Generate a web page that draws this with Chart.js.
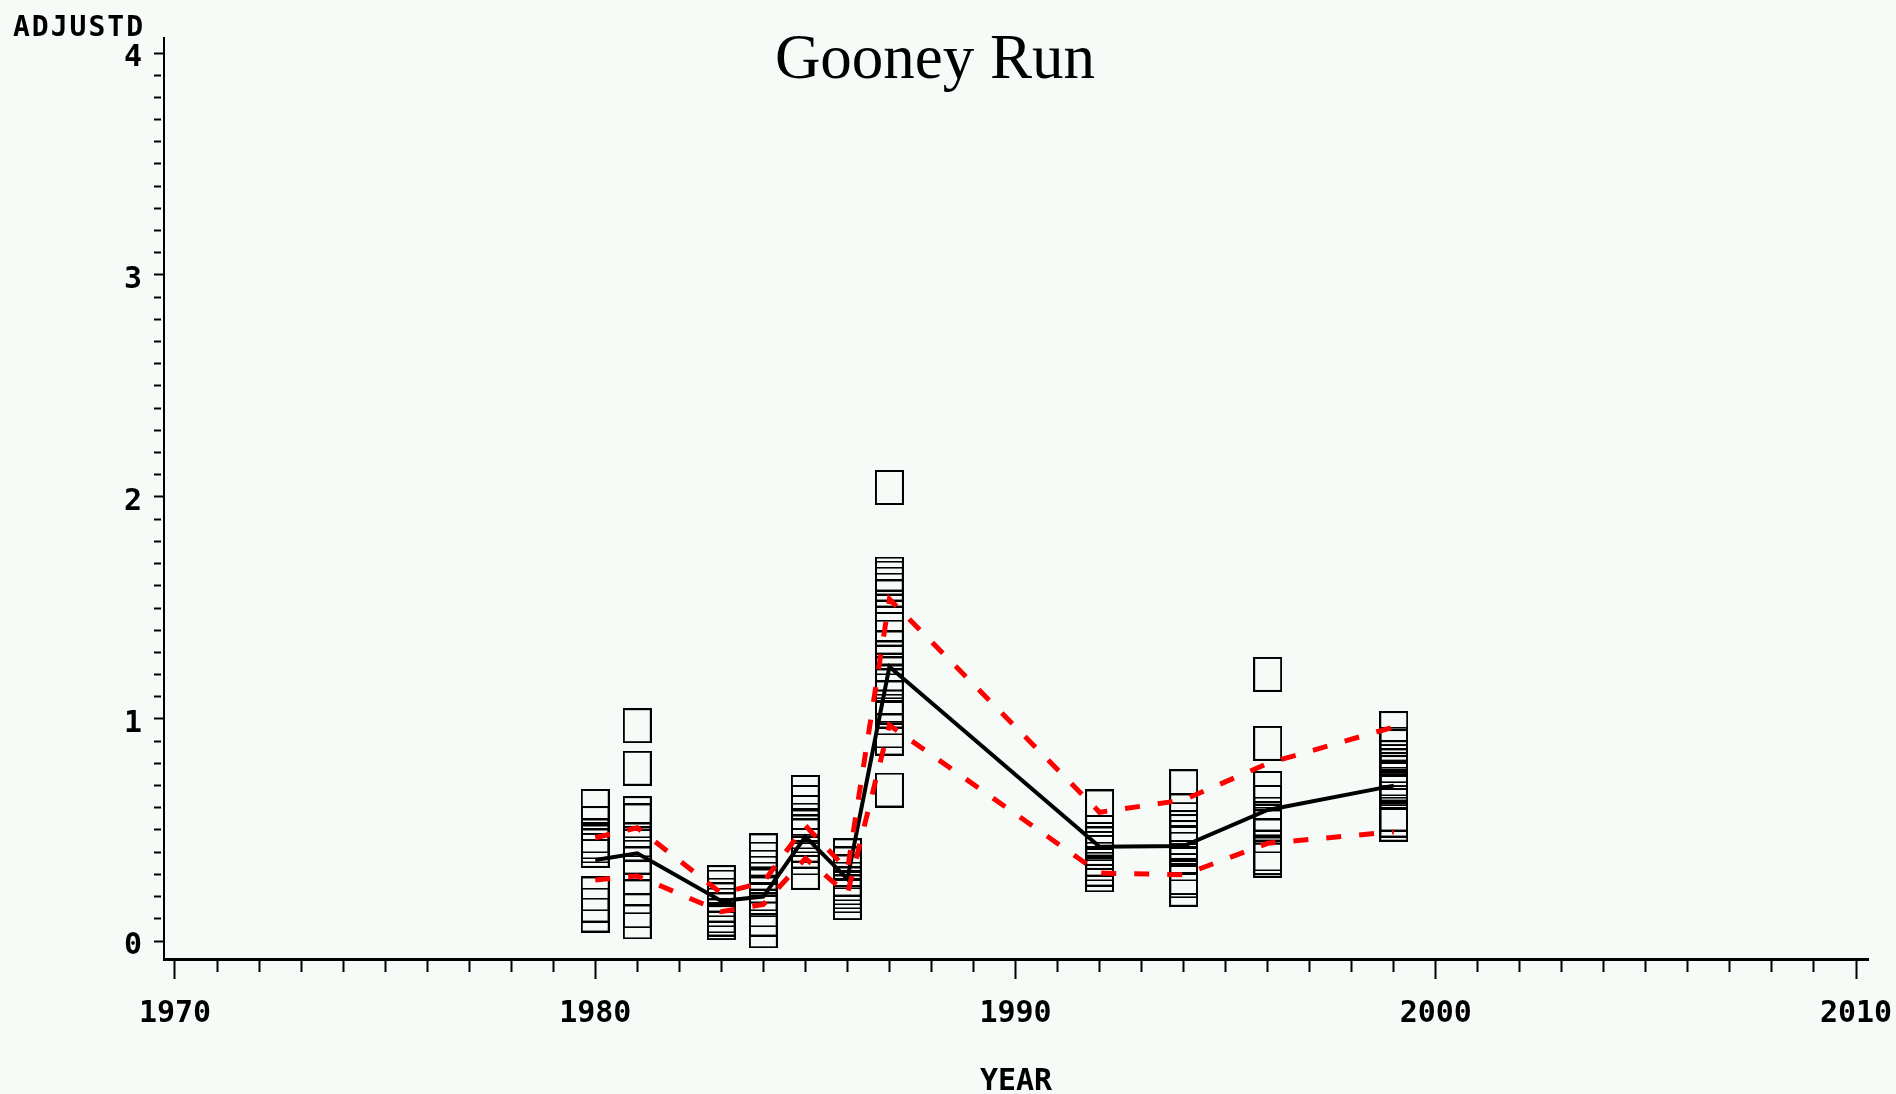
<!DOCTYPE html>
<html>
<head>
<meta charset="utf-8">
<title>Gooney Run</title>
<script src="https://cdn.jsdelivr.net/npm/chart.js@4.4.1/dist/chart.umd.min.js"></script>
<style>
  html, body { margin: 0; padding: 0; background: #f6fbf8; }
  #wrap { position: relative; width: 1896px; height: 1094px; overflow: hidden; }
  #chart { position: absolute; left: 0; top: 0; }
  .title { position: absolute; left: 435px; top: 26px; width: 1000px; text-align: center;
           font: 63px/63px "Liberation Serif", "Times New Roman", serif; color: #000; }
  .ylab  { position: absolute; left: 13px; top: 13px; letter-spacing: 2px;
           font: bold 28px/28px "DejaVu Sans Mono", monospace; color: #000; }
</style>
</head>
<body>
<div id="wrap">
  <canvas id="chart"></canvas>
  <div class="title">Gooney Run</div>
  <div class="ylab">ADJUSTD</div>
</div>
<script>
"use strict";

// ── Axis ranges / ticks
const X_FIRST = 1970, X_LAST = 2010;
const X_LABELS = [1970, 1980, 1990, 2000, 2010];
const Y_LABELS = [0, 1, 2, 3, 4];

// ── Observations (ADJUSTD) per sampling year
const OBS_1980 = [0.606, 0.529, 0.473, 0.446, 0.428, 0.408, 0.212, 0.162, 0.117];
const OBS_1981 = [0.970, 0.778, 0.574, 0.541, 0.455, 0.437, 0.378, 0.347, 0.286, 0.199, 0.136, 0.086];
const OBS_1983 = [0.263, 0.243, 0.207, 0.185, 0.162, 0.140, 0.113, 0.099, 0.083];
const OBS_1984 = [0.406, 0.369, 0.333, 0.306, 0.279, 0.248, 0.212, 0.185, 0.140, 0.099, 0.046];
const OBS_1985 = [0.669, 0.624, 0.579, 0.545, 0.514, 0.491, 0.473, 0.432, 0.405, 0.374, 0.309];
const OBS_1986 = [0.384, 0.347, 0.311, 0.279, 0.257, 0.239, 0.221, 0.203, 0.173];
const OBS_1987 = [2.043, 1.653, 1.635, 1.608, 1.581, 1.550, 1.405, 1.369, 1.320, 1.275, 1.203,
                  1.167, 1.149, 1.095, 1.054, 1.036, 1.005, 0.946, 0.914, 0.680];
const OBS_1992 = [0.604, 0.489, 0.459, 0.437, 0.417, 0.399, 0.369, 0.347, 0.324, 0.298];
const OBS_1994 = [0.695, 0.586, 0.511, 0.493, 0.466, 0.444, 0.414, 0.376, 0.347, 0.286, 0.271, 0.233];
const OBS_1996 = [1.201, 0.890, 0.687, 0.624, 0.572, 0.550, 0.527, 0.514, 0.473, 0.392, 0.376, 0.364];
const OBS_1999 = [0.957, 0.887, 0.876, 0.826, 0.789, 0.772, 0.759, 0.730, 0.707, 0.696, 0.685,
                  0.669, 0.572, 0.545, 0.526];

const OBS = [
  [1980, OBS_1980], [1981, OBS_1981], [1983, OBS_1983], [1984, OBS_1984],
  [1985, OBS_1985], [1986, OBS_1986], [1987, OBS_1987], [1992, OBS_1992],
  [1994, OBS_1994], [1996, OBS_1996], [1999, OBS_1999],
];

// ── Yearly mean and upper / lower bands
const LINE_YEARS = [1980, 1981, 1983, 1984, 1985, 1986, 1987, 1992, 1994, 1996, 1999];
const MEAN  = [0.365, 0.395, 0.180, 0.200, 0.470, 0.280, 1.235, 0.425, 0.428, 0.590, 0.700];
const UPPER = [0.465, 0.510, 0.215, 0.265, 0.520, 0.320, 1.540, 0.580, 0.635, 0.800, 0.964];
const LOWER = [0.275, 0.293, 0.132, 0.165, 0.372, 0.212, 0.972, 0.306, 0.298, 0.440, 0.492];

const $ = id => document.getElementById(id);
const pts = ys => LINE_YEARS.map((x, i) => ({ x, y: ys[i] }));
const obsPts = OBS.flatMap(([x, ys]) => ys.map(y => ({ x, y })));

// ── Open square marker
const box = document.createElement("canvas");
box.width = 29; box.height = 35;
const g = box.getContext("2d");
g.strokeStyle = "#000"; g.lineWidth = 2;
g.strokeRect(1, 1, 27, 33);

const TICK_FONT = { family: "'DejaVu Sans Mono', monospace", size: 30, weight: "bold", lineHeight: 1.2 };

const yTicks = [];
for (let i = 0; i <= Y_LABELS[Y_LABELS.length - 1] * 10; i++) yTicks.push({ value: i / 10 });
const xTicks = [];
for (let v = X_FIRST; v <= X_LAST; v++) xTicks.push({ value: v });

const band = (ys) => ({
  data: pts(ys), showLine: true, pointRadius: 0, borderColor: "#ff0000",
  borderWidth: 5, borderDash: [15, 18], borderCapStyle: "butt", fill: false,
});

new Chart($("chart").getContext("2d"), {
  type: "scatter",
  data: { datasets: [
    band(UPPER),
    band(LOWER),
    { data: pts(MEAN), showLine: true, pointRadius: 0, borderColor: "#000", borderWidth: 4, fill: false },
    { data: obsPts, pointStyle: box, pointRadius: 17, showLine: false },
  ]},
  options: {
    responsive: true, maintainAspectRatio: false, animation: false,
    layout: { padding: { top: 38, right: 28, left: 0, bottom: 0 } },
    plugins: { legend: { display: false }, tooltip: { enabled: false }, title: { display: false } },
    scales: {
      x: {
        type: "linear", position: "bottom",
        min: X_FIRST - 11 / 42.025, max: X_LAST + 12 / 42.025,
        afterBuildTicks: s => { s.ticks = xTicks.map(t => ({ ...t })); },
        afterFit: s => { s.height = 135; s.paddingLeft = 0; s.paddingRight = 0; },
        grid: {
          display: true, drawOnChartArea: false, drawTicks: true, tickLength: 20,
          tickColor: "#000", tickWidth: 2,
          tickBorderDash: ctx => (ctx.tick && X_LABELS.includes(ctx.tick.value)) ? [] : [11, 40],
        },
        border: { display: true, color: "#000", width: 3 },
        ticks: {
          autoSkip: false, maxRotation: 0, color: "#000", font: TICK_FONT, padding: 17,
          callback: v => X_LABELS.includes(v) ? String(v) : "",
        },
        title: { display: true, text: "YEAR", color: "#000", padding: { top: 0, bottom: -3 },
                 font: { ...TICK_FONT, lineHeight: 1 } },
      },
      y: {
        type: "linear", position: "left",
        min: -18 / 222, max: 4 + 15 / 222,
        afterBuildTicks: s => { s.ticks = yTicks.map(t => ({ ...t })); },
        afterFit: s => { s.width = 164; s.paddingTop = 0; s.paddingBottom = 0; },
        grid: {
          display: true, drawOnChartArea: false, drawTicks: true, tickLength: 10,
          tickColor: "#000", tickWidth: 2,
          tickBorderDash: ctx => (ctx.tick && Y_LABELS.includes(ctx.tick.value)) ? [] : [7, 40],
        },
        border: { display: true, color: "#000", width: 2 },
        ticks: {
          autoSkip: false, color: "#000", font: TICK_FONT, padding: 12, labelOffset: 5,
          callback: v => Y_LABELS.includes(v) ? String(v) : "",
        },
      },
    },
  },
});
</script>
</body>
</html>
